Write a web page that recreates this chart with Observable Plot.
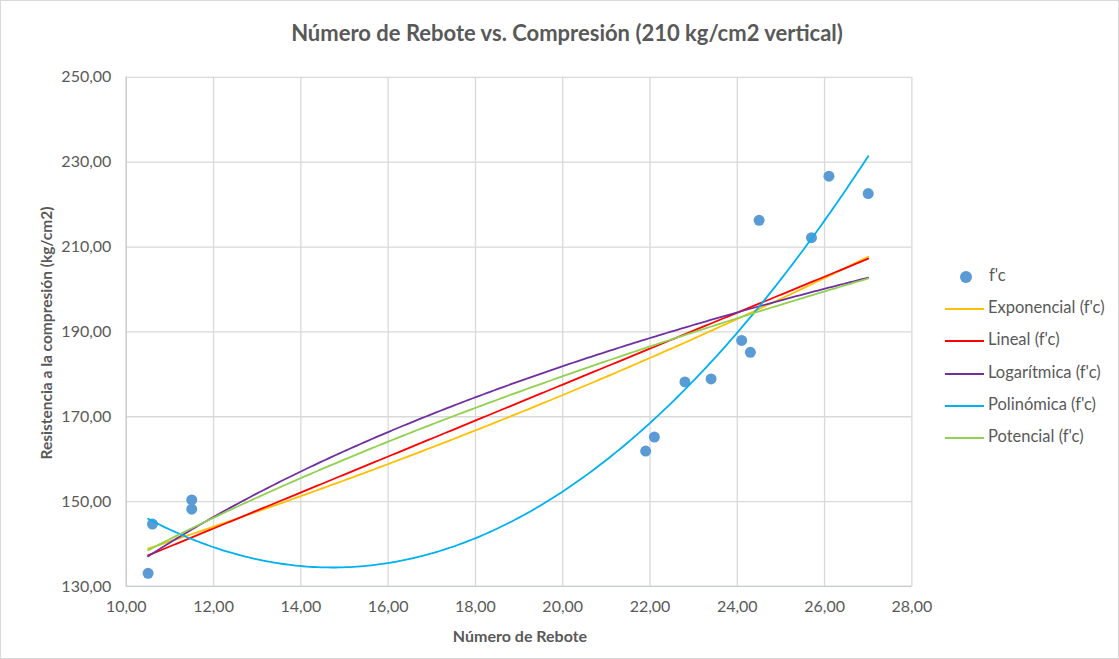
<!DOCTYPE html>
<html><head><meta charset="utf-8">
<script src="https://cdn.jsdelivr.net/npm/d3@7"></script>
<script src="https://cdn.jsdelivr.net/npm/@observablehq/plot@0.6"></script>
<style>
body{margin:0;background:#fff;font-family:Lato,"Noto Sans",sans-serif;}
#wrap{position:relative;width:1119px;height:659px;box-sizing:border-box;border:1px solid #d9d9d9;overflow:hidden;background:#fff;}
#wrap svg{position:absolute;left:-1px;top:-1px;}
.title{position:absolute;left:0;width:1132px;top:18px;text-align:center;font-size:22px;font-weight:bold;color:#595959;line-height:28px;}
.xlab{position:absolute;left:369px;width:300px;top:625px;text-align:center;font-size:16px;font-weight:bold;color:#595959;}
.ylab{position:absolute;left:45px;top:332px;transform:translate(-50%,-50%) rotate(-90deg);white-space:nowrap;font-size:15.5px;font-weight:bold;color:#595959;}
.leg{position:absolute;left:944px;font-size:16.5px;color:#595959;height:20px;line-height:20px;white-space:nowrap;}
.leg .sw{display:inline-block;width:39px;height:2px;vertical-align:middle;margin-right:4px;}
.leg .dot{display:inline-block;width:12px;height:12px;border-radius:50%;background:#5b9bd5;margin-left:15px;margin-right:17px;vertical-align:middle;}
</style></head>
<body><div id="wrap"></div>
<script>
const rebote = [10.5, 10.6, 11.5, 11.5, 21.9, 22.1, 22.8, 23.4, 24.1, 24.3, 24.5, 25.7, 26.1, 27.0];
const fc = [133.1, 144.7, 150.4, 148.2, 161.9, 165.2, 178.2, 178.9, 188.0, 185.2, 216.3, 212.2, 226.7, 222.6];
const xTicks = [10, 12, 14, 16, 18, 20, 22, 24, 26, 28];
const yTicks = [130, 150, 170, 190, 210, 230, 250];
const seriesNames = ["Exponencial (f'c)", "Lineal (f'c)", "Logarítmica (f'c)", "Polinómica (f'c)", "Potencial (f'c)"];
const seriesColors = ["#ffc000", "#ff0000", "#7030a0", "#00b0f0", "#92d050"];
const titleText = "Número de Rebote vs. Compresión (210 kg/cm2 vertical)";
const xTitle = "Número de Rebote";
const yTitle = "Resistencia a la compresión (kg/cm2)";
const pointName = "f'c";

const fmt = d => d3.format(".2f")(d).replace(".", ",");

// least-squares fits, as the chart's trendlines
function linfit(xs, ys) {
  const n = xs.length, mx = d3.mean(xs), my = d3.mean(ys);
  let sxy = 0, sxx = 0;
  for (let i = 0; i < n; i++) { sxy += (xs[i]-mx)*(ys[i]-my); sxx += (xs[i]-mx)**2; }
  const b = sxy/sxx; return [my - b*mx, b];
}
function polyfit2(xs, ys) {
  const S = k => d3.sum(xs, x => x**k), T = k => d3.sum(xs.map((x,i)=>x**k*ys[i]));
  const A = [[S(0),S(1),S(2),T(0)],[S(1),S(2),S(3),T(1)],[S(2),S(3),S(4),T(2)]];
  for (let c = 0; c < 3; c++) {
    for (let r = c+1; r < 3; r++) { const f = A[r][c]/A[c][c]; for (let k = c; k < 4; k++) A[r][k] -= f*A[c][k]; }
  }
  const s = [0,0,0];
  for (let r = 2; r >= 0; r--) { let v = A[r][3]; for (let k = r+1; k < 3; k++) v -= A[r][k]*s[k]; s[r] = v/A[r][r]; }
  return s;
}
const lnX = rebote.map(Math.log), lnY = fc.map(Math.log);
const [ea, eb] = linfit(rebote, lnY);
const [la, lb] = linfit(rebote, fc);
const [ga, gb] = linfit(lnX, fc);
const pc = polyfit2(rebote, fc);
const [pa, pb] = linfit(lnX, lnY);
const fns = [
  x => Math.exp(ea + eb*x),
  x => la + lb*x,
  x => ga + gb*Math.log(x),
  x => pc[0] + pc[1]*x + pc[2]*x*x,
  x => Math.exp(pa + pb*Math.log(x))
];
const xs = d3.range(d3.min(rebote), d3.max(rebote) + 1e-9, (d3.max(rebote)-d3.min(rebote))/200);
const trend = [];
seriesNames.forEach((s, i) => xs.forEach(x => trend.push({s, x, y: fns[i](x)})));
const pts = rebote.map((x, i) => ({x, y: fc[i]}));

const chart = Plot.plot({
  width: 1119, height: 659,
  marginLeft: 126, marginRight: 206, marginTop: 77, marginBottom: 72,
  x: {domain: [10, 28], label: null},
  y: {domain: [130, 250], label: null},
  color: {domain: seriesNames, range: seriesColors},
  style: {fontFamily: "Lato, 'Noto Sans', sans-serif", fontSize: "16px", color: "#595959", background: "transparent"},
  marks: [
    Plot.gridX(xTicks, {stroke: "#d9d9d9", strokeOpacity: 1, strokeWidth: 1.3}),
    Plot.gridY(yTicks, {stroke: "#d9d9d9", strokeOpacity: 1, strokeWidth: 1.3}),
    Plot.ruleX([10], {stroke: "#c8ccd2", strokeWidth: 1.3}),
    Plot.ruleY([130], {stroke: "#c8ccd2", strokeWidth: 1.3}),
    Plot.axisX(xTicks, {tickSize: 0, tickPadding: 14, tickFormat: fmt, fontSize: 16, fill: "#595959", label: null}),
    Plot.axisY(yTicks, {tickSize: 0, tickPadding: 15, tickFormat: fmt, fontSize: 16, fill: "#595959", label: null}),
    Plot.dot(pts, {x: "x", y: "y", r: 5.5, fill: "#5b9bd5", stroke: "none"}),
    Plot.line(trend, {x: "x", y: "y", z: "s", stroke: "s", strokeWidth: 1.8, curve: "linear"})
  ]
});
const wrap = document.getElementById("wrap");
wrap.appendChild(chart);
const add = (cls, html, style) => { const d = document.createElement("div"); d.className = cls; d.innerHTML = html; if (style) d.setAttribute("style", style); wrap.appendChild(d); return d; };
add("title", titleText);
add("xlab", xTitle);
add("ylab", yTitle);
const legTops = [264, 296, 328, 361, 393, 425];
add("leg", `<span class="dot"></span>${pointName}`, `top:${legTops[0]}px`);
seriesNames.forEach((s, i) => add("leg", `<span class="sw" style="background:${seriesColors[i]}"></span>${s}`, `top:${legTops[i+1]}px`));
</script>
</body></html>
